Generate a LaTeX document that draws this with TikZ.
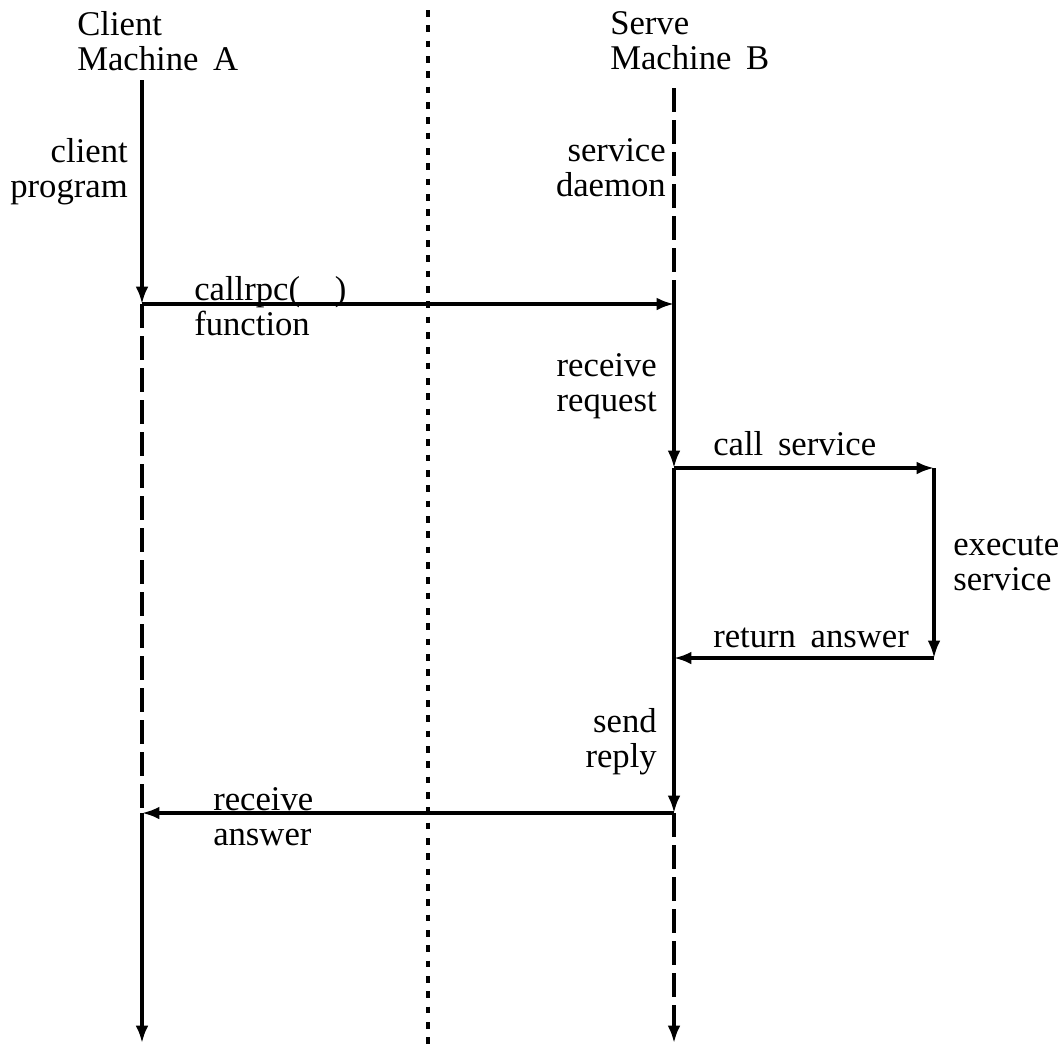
\documentclass[tikz,border=0pt]{standalone}
\usepackage{fontspec}
\setmainfont{Liberation Serif}
\usetikzlibrary{arrows.meta}
\newcommand{\lbl}{\fontsize{26}{26.25}\selectfont\spaceskip=11pt plus 1pt}
\begin{document}
\begin{tikzpicture}[x=0.75pt,y=-0.75pt,
  tip/.tip={Latex[length=13pt,width=9.5pt]},
  flow/.style={line width=2.4pt,-tip},
  lifeline/.style={line width=2.4pt,dash pattern=on 18pt off 6pt},
  divider/.style={line width=2.6pt,dash pattern=on 5pt off 6.5pt},
  txtl/.style={font=\lbl,align=left,inner sep=0pt,anchor=base west},
  txtr/.style={font=\lbl,align=right,inner sep=0pt,anchor=base east}]
\useasboundingbox (0,0) rectangle (1062,1046);
% coordinates
\coordinate (A0) at (142,80);
\coordinate (A1) at (142,304);
\coordinate (A2) at (142,813);
\coordinate (A3) at (142,1043);
\coordinate (B0) at (674,88);
\coordinate (B1) at (674,304);
\coordinate (B2) at (674,468);
\coordinate (B3) at (674,658);
\coordinate (B4) at (674,813);
\coordinate (B5) at (674,1043);
\coordinate (C1) at (934,468);
\coordinate (C2) at (934,658);
\coordinate (M0) at (428,10);
\coordinate (M1) at (428,1046);
% divider
\draw[divider] (M0) -- (M1);
% client lifeline
\draw[flow] (A0) -- (A1);
\draw[lifeline] (A1) -- (A2);
\draw[flow] (A2) -- (A3);
% server lifeline
\draw[lifeline] (B0) -- (B1);
\draw[flow] (B1) -- (B2);
\draw[flow] (B2) -- (B4);
\draw[lifeline,-tip] (B4) -- (B5);
% messages
\draw[flow] (A1) -- (B1);
\draw[flow] (B2) -- (C1);
\draw[flow] (C1) -- (C2);
\draw[flow] (C2) -- (B3);
\draw[flow] (B4) -- (A2);
% labels (anchored at the baseline of the last line)
\node[txtl] (tA) at (77,70) {Client\\Machine A};
\node[txtl] (tB) at (610,69) {Serve\\Machine B};
\node[txtr] (tcp) at (128,197) {client\\program};
\node[txtr] (tsd) at (666,196) {service\\daemon};
\node[txtl] (trpc) at (194,335) {callrpc(\hspace{26pt})\\function};
\node[txtr] (trr) at (657,411) {receive\\request};
\node[txtl] (tcs) at (713,455) {call service};
\node[txtl] (tes) at (953,590) {execute\\service};
\node[txtl] (tra) at (713,647) {return answer};
\node[txtr] (tsr) at (657,767) {send\\reply};
\node[txtl] (trc) at (213,845) {receive\\answer};
\end{tikzpicture}
\end{document}
